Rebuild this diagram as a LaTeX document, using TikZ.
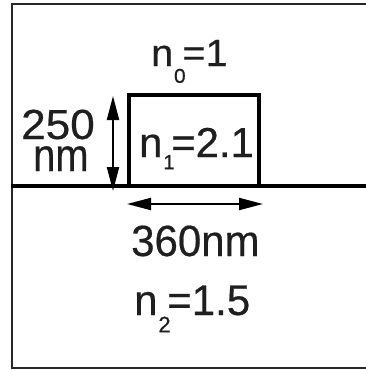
\documentclass[tikz,border=0pt]{standalone}
\usepackage{fontspec}
\setmainfont{Liberation Sans}
\newfontfamily\lblfont{Liberation Sans}[FakeBold=0.5]
\usetikzlibrary{arrows.meta}
% #1 size, #2 xscale, #3 yscale, #4 text
\newcommand{\lblsz}[4]{\scalebox{#2}[#3]{\fontsize{#1}{#1}\lblfont #4}}
% #1 sub size, #2 lowering, #3 sub text
\newcommand{\subn}[3]{n\kern0.02em\raisebox{-#2}{\fontsize{#1}{#1}\lblfont #3}\kern-0.08em}
\tikzset{
  frameline/.style={line width=2pt, draw=black!85},
  thickline/.style={line width=3.6pt, draw=black},
  dimarrow/.style={line width=2pt, {Triangle[length=24pt,width=12pt]}-{Triangle[length=24pt,width=12pt]}},
  lbl/.style={inner sep=0pt, anchor=base west, text=black!88},
}
\begin{document}
\begin{tikzpicture}[x=1pt,y=-1pt]
\useasboundingbox (0,0) rectangle (365,370);
\fill[white] (0,0) rectangle (365,370);
% frame (left, top, bottom visible)
\coordinate (ftr) at (366,3.5);
\coordinate (ftl) at (11.5,3.5);
\coordinate (fbl) at (11.5,367.5);
\coordinate (fbr) at (366,367.5);
\draw[frameline] (ftr) -- (ftl) -- (fbl) -- (fbr);
% substrate line
\coordinate (sl) at (11,186);
\coordinate (sr) at (366,186);
\draw[thickline] (sl) -- (sr);
% waveguide rectangle
\coordinate (rbl) at (129,186);
\coordinate (rtl) at (129,95);
\coordinate (rtr) at (259,95);
\coordinate (rbr) at (259,186);
\draw[thickline, line join=miter] (rbl) -- (rtl) -- (rtr) -- (rbr);
% dimension arrows
\coordinate (vt) at (113,96);
\coordinate (vb) at (113,191);
\draw[dimarrow] (vt) -- (vb);
\coordinate (hl) at (127,204);
\coordinate (hr) at (263,204);
\draw[dimarrow] (hl) -- (hr);
% labels
\node[lbl] (n0) at (151,66) {\lblsz{36}{1.1}{1.05}{\subn{19}{16pt}{0}=1}};
\node[lbl] (h1) at (21,139) {\lblsz{42}{1.05}{1.0}{250}};
\node[lbl] (h2) at (33,171) {\lblsz{42}{0.95}{1.1}{nm}};
\node[lbl] (n1) at (139,157) {\lblsz{41}{1.02}{1.02}{\subn{20}{12pt}{1}=2.1}};
\node[lbl] (w) at (131,256) {\lblsz{42}{1.0}{1.04}{360nm}};
\node[lbl] (n2) at (134,315) {\lblsz{42}{1.0}{1.02}{\subn{22}{17pt}{2}=1.5}};
\end{tikzpicture}
\end{document}
